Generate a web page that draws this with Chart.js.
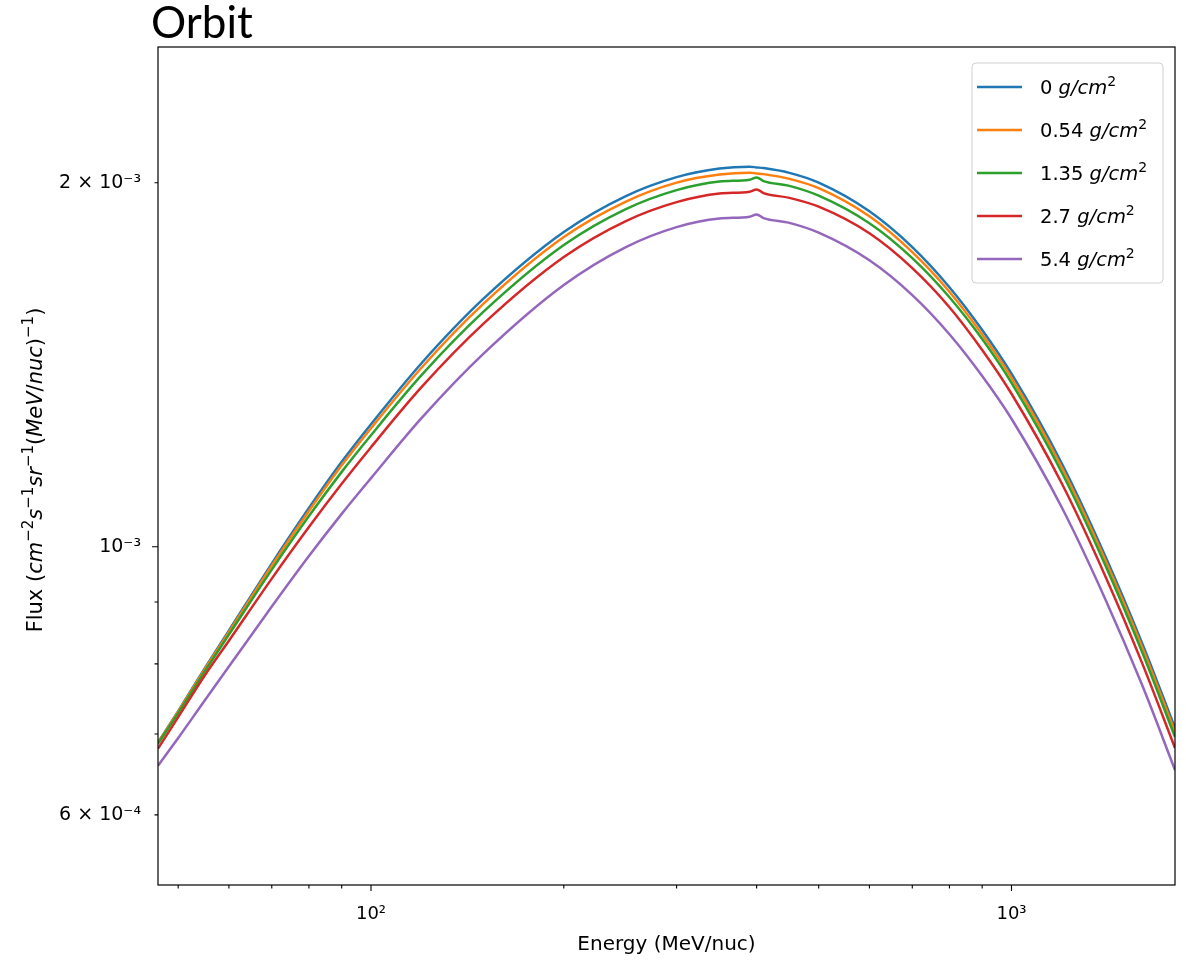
<!DOCTYPE html>
<html>
<head>
<meta charset="utf-8">
<script src="https://cdn.jsdelivr.net/npm/chart.js@4.4.1/dist/chart.umd.min.js"></script>
<style>
html,body{margin:0;padding:0;background:#fff;}
#wrap{position:relative;width:1186px;height:962px;}
</style>
</head>
<body>
<div id="wrap"><canvas id="c"></canvas></div>
<script>
// ---------------- data ----------------
const chartTitle = 'Orbit';
const energies = [46.5, 50, 55, 60, 70, 80, 90, 100, 120, 150, 200, 250, 300, 350, 390, 400, 410, 450, 500, 600, 700, 800, 900, 1000, 1200, 1400, 1600, 1800];
const thicknessLabels = ['0', '0.54', '1.35', '2.7', '5.4'];
const flux0   = [6.885e-4, 7.312e-4, 7.930e-4, 8.522e-4, 9.683e-4, 1.0763e-3, 1.1753e-3, 1.2627e-3, 1.4189e-3, 1.6044e-3, 1.8208e-3, 1.9498e-3, 2.0215e-3, 2.0549e-3, 2.0620e-3, 2.0592e-3, 2.0565e-3, 2.0378e-3, 2.0002e-3, 1.8941e-3, 1.7692e-3, 1.6391e-3, 1.5108e-3, 1.3900e-3, 1.1699e-3, 9.830e-4, 8.318e-4, 7.080e-4];
const flux054 = [6.885e-4, 7.305e-4, 7.915e-4, 8.498e-4, 9.646e-4, 1.0702e-3, 1.1675e-3, 1.2531e-3, 1.4068e-3, 1.5892e-3, 1.8035e-3, 1.9295e-3, 2.0004e-3, 2.0316e-3, 2.0386e-3, 2.0358e-3, 2.0331e-3, 2.0147e-3, 1.9794e-3, 1.8761e-3, 1.7524e-3, 1.6251e-3, 1.4979e-3, 1.3795e-3, 1.1610e-3, 9.755e-4, 8.255e-4, 7.026e-4];
const flux135 = [6.872e-4, 7.284e-4, 7.885e-4, 8.457e-4, 9.573e-4, 1.0600e-3, 1.1531e-3, 1.2365e-3, 1.3869e-3, 1.5652e-3, 1.7763e-3, 1.9021e-3, 1.9721e-3, 2.0047e-3, 2.0116e-3, 2.0204e-3, 2.0062e-3, 1.9880e-3, 1.9513e-3, 1.8513e-3, 1.7325e-3, 1.6082e-3, 1.4851e-3, 1.3664e-3, 1.1500e-3, 9.663e-4, 8.177e-4, 6.960e-4];
const flux27  = [6.807e-4, 7.229e-4, 7.825e-4, 8.361e-4, 9.410e-4, 1.0380e-3, 1.1271e-3, 1.2086e-3, 1.3556e-3, 1.5299e-3, 1.7362e-3, 1.8593e-3, 1.9276e-3, 1.9595e-3, 1.9662e-3, 1.9748e-3, 1.9610e-3, 1.9432e-3, 1.9109e-3, 1.8165e-3, 1.6999e-3, 1.5779e-3, 1.4544e-3, 1.3381e-3, 1.1262e-3, 9.463e-4, 8.007e-4, 6.816e-4];
const flux54  = [6.590e-4, 6.946e-4, 7.461e-4, 7.958e-4, 8.922e-4, 9.823e-4, 1.0645e-3, 1.1394e-3, 1.2779e-3, 1.4449e-3, 1.6461e-3, 1.7694e-3, 1.8380e-3, 1.8683e-3, 1.8748e-3, 1.8830e-3, 1.8698e-3, 1.8528e-3, 1.8186e-3, 1.7254e-3, 1.6147e-3, 1.4988e-3, 1.3841e-3, 1.2759e-3, 1.0759e-3, 9.057e-4, 7.679e-4, 6.536e-4];
const seriesColors = ['#1f77b4', '#ff7f0e', '#2ca02c', '#d62728', '#9467bd'];

const xMin = 46.5, xMax = 1800;
const yMin = 5.25e-4, yMax = 2.59e-3;
const xTickValues = [100, 1000];
const xTickLabels = ['10²', '10³'];
const xMinorTickValues = [50, 60, 70, 80, 90, 200, 300, 400, 500, 600, 700, 800, 900];
const yTickValues = [6e-4, 1e-3, 2e-3];
const yTickLabels = ['6 × 10⁻⁴', '10⁻³', '2 × 10⁻³'];
const yMajorTickValues = [1e-3];
const yMinorTickValues = [6e-4, 7e-4, 8e-4, 9e-4, 2e-3];
const xTitle = 'Energy (MeV/nuc)';
// y title as styled pieces: n = normal, i = italic, s = superscript
const yTitleParts = [['Flux (', 'n'], ['cm', 'i'], ['−2', 's'], ['s', 'i'], ['−1', 's'], ['sr', 'i'], ['−1', 's'], ['(', 'n'], ['MeV', 'i'], ['/', 'n'], ['nuc', 'i'], [')', 'n'], ['−1', 's'], [')', 'n']];

// ---------------- helpers ----------------
const FAMILY = '"DejaVu Sans", sans-serif';
function partFont(style, size) {
  if (style === 'i') return 'italic ' + size + 'px ' + FAMILY;
  if (style === 's') return Math.round(size * 0.7) + 'px ' + FAMILY;
  return size + 'px ' + FAMILY;
}
function richWidth(ctx, parts, size) {
  let w = 0;
  for (const [t, st] of parts) { ctx.font = partFont(st, size); w += ctx.measureText(t).width; }
  return w;
}
function drawRich(ctx, parts, x, y, size) {
  let cx = x;
  ctx.textAlign = 'left';
  ctx.textBaseline = 'alphabetic';
  for (const [t, st] of parts) {
    ctx.font = partFont(st, size);
    const dy = st === 's' ? -size * 0.42 : 0;
    ctx.fillText(t, cx, y + dy);
    cx += ctx.measureText(t).width;
  }
}

const datasetsSrc = [flux0, flux054, flux135, flux27, flux54];
const datasets = datasetsSrc.map((arr, k) => ({
  label: thicknessLabels[k] + ' g/cm²',
  data: energies.map((e, i) => ({ x: e, y: arr[i] })),
  borderColor: seriesColors[k],
  backgroundColor: seriesColors[k],
  borderWidth: 2.5,
  pointRadius: 0,
  fill: false,
  cubicInterpolationMode: 'monotone',
  order: datasetsSrc.length - 1 - k
}));

const decorPlugin = {
  id: 'decor',
  afterDraw(chart) {
    const ctx = chart.ctx;
    const a = chart.chartArea;
    const xs = chart.scales.x, ys = chart.scales.y;
    ctx.save();
    // frame
    ctx.strokeStyle = '#000';
    ctx.lineWidth = 1.2;
    ctx.strokeRect(a.left, a.top, a.right - a.left, a.bottom - a.top);
    // ticks
    ctx.lineWidth = 1.1;
    ctx.beginPath();
    for (const v of xTickValues) { const p = xs.getPixelForValue(v); ctx.moveTo(p, a.bottom); ctx.lineTo(p, a.bottom + 6); }
    for (const v of xMinorTickValues) { const p = xs.getPixelForValue(v); ctx.moveTo(p, a.bottom); ctx.lineTo(p, a.bottom + 3.5); }
    for (const v of yMajorTickValues) { const p = ys.getPixelForValue(v); ctx.moveTo(a.left, p); ctx.lineTo(a.left - 6, p); }
    for (const v of yMinorTickValues) { const p = ys.getPixelForValue(v); ctx.moveTo(a.left, p); ctx.lineTo(a.left - 3.5, p); }
    ctx.stroke();

    // title
    ctx.fillStyle = '#000';
    ctx.font = '44px Lato, "Open Sans", sans-serif';
    ctx.textAlign = 'left';
    ctx.textBaseline = 'alphabetic';
    ctx.fillText(chartTitle, 151, 38);

    // y axis title (rotated)
    const ySize = 21;
    const w = richWidth(ctx, yTitleParts, ySize);
    ctx.save();
    ctx.translate(42, (a.top + a.bottom) / 2 + 4);
    ctx.rotate(-Math.PI / 2);
    ctx.fillStyle = '#000';
    drawRich(ctx, yTitleParts, -w / 2, 0, ySize);
    ctx.restore();

    // legend
    const bx = 972, by = 63, bw = 191, bh = 220, r = 4;
    ctx.beginPath();
    ctx.moveTo(bx + r, by);
    ctx.arcTo(bx + bw, by, bx + bw, by + bh, r);
    ctx.arcTo(bx + bw, by + bh, bx, by + bh, r);
    ctx.arcTo(bx, by + bh, bx, by, r);
    ctx.arcTo(bx, by, bx + bw, by, r);
    ctx.closePath();
    ctx.fillStyle = 'rgba(255,255,255,0.8)';
    ctx.fill();
    ctx.strokeStyle = '#d0d0d0';
    ctx.lineWidth = 1;
    ctx.stroke();
    chart.data.datasets.forEach((ds, k) => {
      const cy = 87 + k * 43;
      ctx.strokeStyle = ds.borderColor;
      ctx.lineWidth = 2.5;
      ctx.beginPath();
      ctx.moveTo(977, cy);
      ctx.lineTo(1022, cy);
      ctx.stroke();
      ctx.fillStyle = '#000';
      drawRich(ctx, [[thicknessLabels[k] + ' ', 'n'], ['g/cm', 'i'], ['2', 's']], 1040, cy + 7, 19.5);
    });
    ctx.restore();
  }
};

new Chart(document.getElementById('c'), {
  type: 'line',
  data: { datasets },
  options: {
    responsive: true,
    maintainAspectRatio: false,
    animation: false,
    layout: { padding: { left: 0, right: 11, top: 47, bottom: 0 } },
    plugins: { legend: { display: false }, tooltip: { enabled: false }, title: { display: false } },
    scales: {
      x: {
        type: 'logarithmic',
        min: xMin, max: xMax,
        grid: { display: false, drawTicks: false },
        border: { display: false },
        afterBuildTicks: (s) => { s.ticks = xTickValues.map(v => ({ value: v })); },
        afterFit: (s) => { s.height = 77; },
        ticks: {
          autoSkip: false, maxRotation: 0, padding: 19, color: '#000',
          font: { family: 'DejaVu Sans', size: 18 },
          callback: (v) => { const i = xTickValues.indexOf(v); return i >= 0 ? xTickLabels[i] : ''; }
        },
        title: { display: true, text: xTitle, color: '#000', font: { family: 'DejaVu Sans', size: 20 }, padding: { top: 0, bottom: 5 } }
      },
      y: {
        type: 'logarithmic',
        min: yMin, max: yMax,
        grid: { display: false, drawTicks: false },
        border: { display: false },
        afterBuildTicks: (s) => { s.ticks = yTickValues.map(v => ({ value: v })); },
        afterFit: (s) => { s.width = 158; },
        ticks: {
          autoSkip: false, padding: 17, color: '#000',
          font: { family: 'DejaVu Sans', size: 19 },
          callback: (v) => { const i = yTickValues.indexOf(v); return i >= 0 ? yTickLabels[i] : ''; }
        }
      }
    }
  },
  plugins: [decorPlugin]
});
</script>
</body>
</html>
